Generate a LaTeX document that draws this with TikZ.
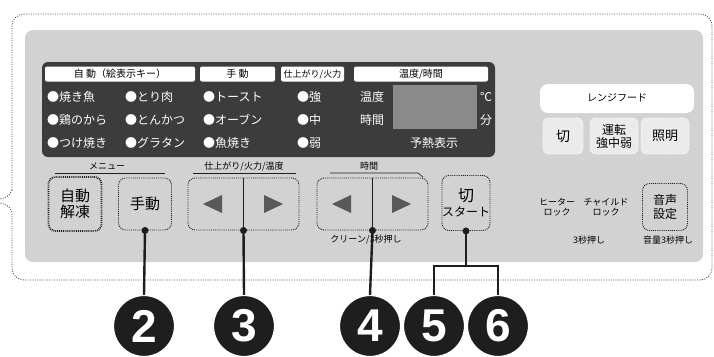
\documentclass[tikz,border=0pt]{standalone}
\usepackage{fontspec}
\setmainfont{Noto Sans CJK JP}
\newfontfamily\numfont{Liberation Sans}
\usepackage{tikz}
\usetikzlibrary{positioning, calc}
\definecolor{panelgray}{HTML}{D2D2D2}
\definecolor{darkpanel}{HTML}{3C3C3C}
\definecolor{lcdgray}{HTML}{8A8A8A}
\definecolor{inkdark}{HTML}{1E1E1E}

\begin{document}
\begin{tikzpicture}[x=1pt, y=-1pt,
    frame/.style={draw=black!70, line width=0.8pt, dash pattern=on 1pt off 1.4pt},
    headbox/.style={fill=white, rounded corners=2pt, minimum height=15pt, inner sep=0pt, font=\fontsize{10}{10}\selectfont},
    rowtext/.style={text=white, inner sep=0pt, anchor=west, font=\fontsize{12}{12}\selectfont},
    keybtn/.style={draw=inkdark, line width=0.9pt, densely dotted, rounded corners=7pt, inner sep=0pt, align=center, font=\fontsize{15}{16}\selectfont},
    hoodbtn/.style={draw=white, line width=0.9pt, densely dotted, fill=panelgray!45, rounded corners=6pt, inner sep=0pt, align=center, minimum height=36pt},
    smalltext/.style={inner sep=0pt, align=center, font=\fontsize{9}{10}\selectfont},
    numdot/.style={circle, fill=inkdark, draw=white, line width=1.2pt, minimum size=61pt, inner sep=0pt, text=white, font=\numfont\bfseries\fontsize{46}{46}\selectfont},
    conn/.style={draw=inkdark, line width=2.4pt},
    tri/.style={fill=black!65}]
  \useasboundingbox (0,0) rectangle (714,356);

  % Outer frame, open to the left
  \draw[frame, rounded corners=12pt] (12,190) -- (12,14) -- (712,14) -- (712,280) -- (12,280) -- (12,212);
  \draw[frame] (12,190) .. controls (10,196) and (5,198) .. (0,199);
  \draw[frame] (12,212) .. controls (10,206) and (5,204) .. (0,203);

  % Panel
  \fill[panelgray, rounded corners=8pt] (25,30) rectangle (703,262);

  % Menu table
  \fill[darkpanel, rounded corners=6pt] (42,62) rectangle (495,157);
  \node[headbox, minimum width=150pt] (hAuto) at (120,74) {自 動（絵表示キー）};
  \node[headbox, minimum width=75pt] (hManual) at (237.5,74) {手 動};
  \node[headbox, minimum width=63pt, font=\fontsize{9}{9}\selectfont] (hFinish) at (312.5,74) {仕上がり/火力};
  \node[headbox, minimum width=134pt] (hTemp) at (421,74) {温度/時間};

  % Display window
  \fill[lcdgray] (393,85) rectangle (477,129);

  % Rows
  \node[rowtext] at (47,97) {●焼き魚};
  \node[rowtext] at (125,97) {●とり肉};
  \node[rowtext] at (203,97) {●トースト};
  \node[rowtext] at (297,97) {●強};
  \node[rowtext] at (360,97) {温度};
  \node[rowtext] at (480,97) {℃};
  \node[rowtext] at (47,120) {●鶏のから};
  \node[rowtext] at (125,120) {●とんかつ};
  \node[rowtext] at (203,120) {●オーブン};
  \node[rowtext] at (297,120) {●中};
  \node[rowtext] at (360,120) {時間};
  \node[rowtext] at (480,120) {分};
  \node[rowtext] at (47,143) {●つけ焼き};
  \node[rowtext] at (125,143) {●グラタン};
  \node[rowtext] at (203,143) {●魚焼き};
  \node[rowtext] at (297,143) {●弱};
  \node[rowtext] at (410,143) {予熱表示};

  % Group labels
  \node[smalltext] (lMenu) at (107,166) {メニュー};
  \node[smalltext] (lFinish) at (244,166) {仕上がり/火力/温度};
  \node[smalltext] (lTime) at (369,166) {時間};
  \draw[inkdark, line width=0.6pt] (55,173) -- (165,173);
  \draw[inkdark, line width=0.6pt] (193,173) -- (296,173);
  \draw[inkdark, line width=0.6pt] (330,173) -- (418,173) -- (423,177);

  % Keys
  \node[keybtn, line width=1.8pt, minimum width=53pt, minimum height=54pt] (auto) at (75,204) {自動\\解凍};
  \node[keybtn, minimum width=53pt, minimum height=52pt] (manual) at (145,204) {手動};
  \node[keybtn, minimum width=111pt, minimum height=52pt] (arrowsA) at (243.5,204) {};
  \draw[inkdark, line width=0.8pt] (arrowsA.north) -- (arrowsA.south);
  \fill[tri] (203,204) -- (222,195) -- (222,213) -- cycle;
  \fill[tri] (264,195) -- (283,204) -- (264,213) -- cycle;
  \node[keybtn, minimum width=111pt, minimum height=52pt] (arrowsB) at (372.5,204) {};
  \draw[inkdark, line width=0.8pt] (arrowsB.north) -- (arrowsB.south);
  \fill[tri] (332,204) -- (351,195) -- (351,213) -- cycle;
  \fill[tri] (392,195) -- (411,204) -- (392,213) -- cycle;
  \node[keybtn, minimum width=47pt, minimum height=55pt, font=\fontsize{12}{15}\selectfont] (start) at (466,203) {{\fontsize{16}{16}\selectfont 切}\\スタート};
  \node[keybtn, minimum width=45pt, minimum height=47pt, font=\fontsize{12}{14}\selectfont] (voice) at (665,207) {音声\\設定};

  % Key notes
  \node[smalltext] (lClean) at (366,240) {クリーン/3秒押し};
  \node[smalltext] (lHeater) at (557,207) {ヒーター\\ロック};
  \node[smalltext] (lChild) at (606,207) {チャイルド\\ロック};
  \node[smalltext] (lPress) at (589,240) {3秒押し};
  \node[smalltext] (lVolume) at (668,240) {音量3秒押し};

  % Range hood
  \fill[white, rounded corners=8pt] (540,84) rectangle (694,113);
  \node[smalltext, font=\fontsize{10}{10}\selectfont] (lHood) at (617,98) {レンジフード};
  \node[hoodbtn, minimum width=40pt, font=\fontsize{14}{14}\selectfont] (hoodOff) at (563,136) {切};
  \node[hoodbtn, minimum width=48pt, font=\fontsize{12}{13}\selectfont] (hoodRun) at (614,136) {運転\\強中弱};
  \node[hoodbtn, minimum width=48pt, font=\fontsize{13}{13}\selectfont] (hoodLight) at (665,136) {照明};

  % Callouts
  \node[numdot] (c2) at (144,326) {2};
  \node[numdot] (c3) at (244,326) {3};
  \node[numdot] (c4) at (370,326) {4};
  \node[numdot] (c5) at (434,326) {5};
  \node[numdot] (c6) at (498,326) {6};
  \coordinate (fork) at ($(start.south)+(0,35)$);
  \draw[conn] (manual.south) -- (c2.north);
  \draw[conn] (arrowsA.south) -- (c3.north);
  \draw[conn] (arrowsB.south) -- (c4.north);
  \draw[conn] (start.south) -- (fork);
  \draw[conn] (c5.north) |- (fork) -| (c6.north);
  \fill[inkdark] (manual.south) circle (3.5);
  \fill[inkdark] (arrowsA.south) circle (3.5);
  \fill[inkdark] (arrowsB.south) circle (3.5);
  \fill[inkdark] (start.south) circle (3.5);
\end{tikzpicture}
\end{document}
